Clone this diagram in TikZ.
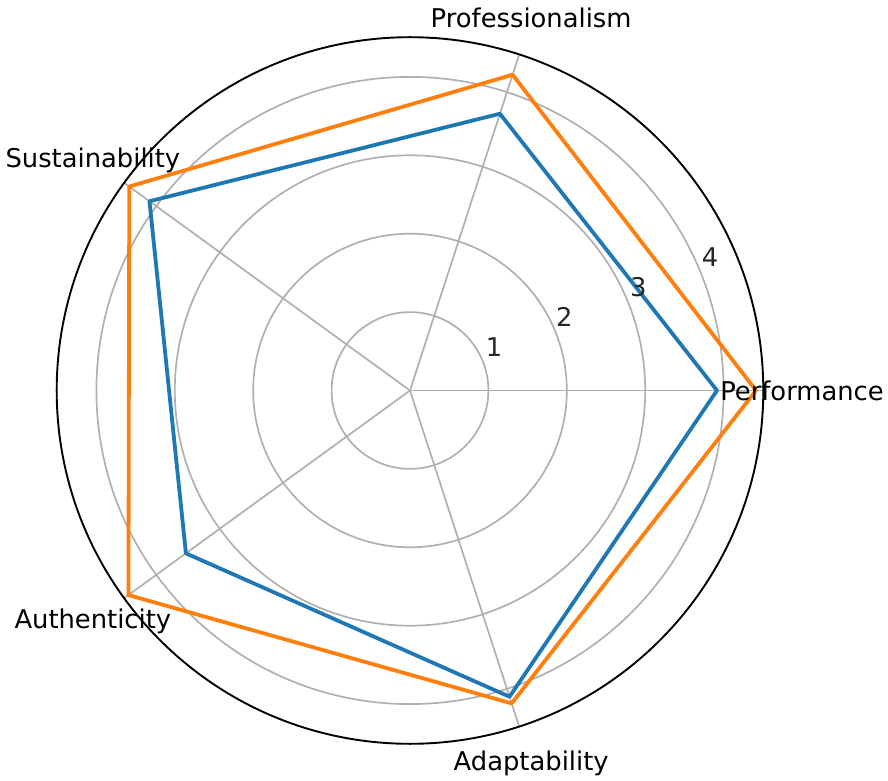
\documentclass[tikz,border=0pt]{standalone}
\usepackage{fontspec}
\setmainfont{DejaVu Sans}
\definecolor{mplblue}{HTML}{1F77B4}
\definecolor{mplorange}{HTML}{FF7F0E}
\definecolor{gridgray}{HTML}{B0B0B0}
\tikzset{
  gridline/.style={draw=gridgray, line width=1.7pt},
  spine/.style={draw=black, line width=1.9pt},
  series/.style={line width=3.8pt, line join=round, line cap=round},
  axislabel/.style={font=\fontsize{25.8}{30}\selectfont, inner sep=0pt},
  ticklabel/.style={font=\fontsize{25.8}{30}\selectfont, inner sep=0pt, text=black!85},
}
\begin{document}
\begin{tikzpicture}[x=1pt,y=1pt]
\useasboundingbox (-410,-390.5) rectangle (478,390.5);
\coordinate (c) at (0,0);
% grid rings
\foreach \k in {1,2,3,4} {
  \draw[gridline] (c) circle ({\k*78.4});
}
% spokes
\foreach \a/\n in {0/pf,72/pr,144/su,216/au,288/ad} {
  \coordinate (o\n) at (\a:353.3);
  \draw[gridline] (c) -- (o\n);
}
% outer spine
\draw[spine] (c) circle (353.3);
% blue series
\coordinate (b1) at (0:307);
\coordinate (b2) at (72:291);
\coordinate (b3) at (144:322);
\coordinate (b4) at (216:277);
\coordinate (b5) at (288:322);
\draw[series, mplblue] (b1) -- (b2) -- (b3) -- (b4) -- (b5) -- cycle;
% orange series
\coordinate (r1) at (0:346);
\coordinate (r2) at (72:332);
\coordinate (r3) at (144:347);
\coordinate (r4) at (216:348);
\coordinate (r5) at (288:329);
\draw[series, mplorange] (r1) -- (r2) -- (r3) -- (r4) -- (r5) -- cycle;
% tick labels
\node[ticklabel] (t1) at (84,43.5) {1};
\node[ticklabel] (t2) at (154.3,73.2) {2};
\node[ticklabel] (t3) at (228.3,103.8) {3};
\node[ticklabel] (t4) at (300,133.2) {4};
% axis labels
\node[axislabel] (lpf) at (0:392) {Performance};
\node[axislabel] (lpr) at (72:392) {Professionalism};
\node[axislabel] (lsu) at (144:392) {Sustainability};
\node[axislabel] (lau) at (216:392) {Authenticity};
\node[axislabel] (lad) at (288:392) {Adaptability};
\end{tikzpicture}
\end{document}
